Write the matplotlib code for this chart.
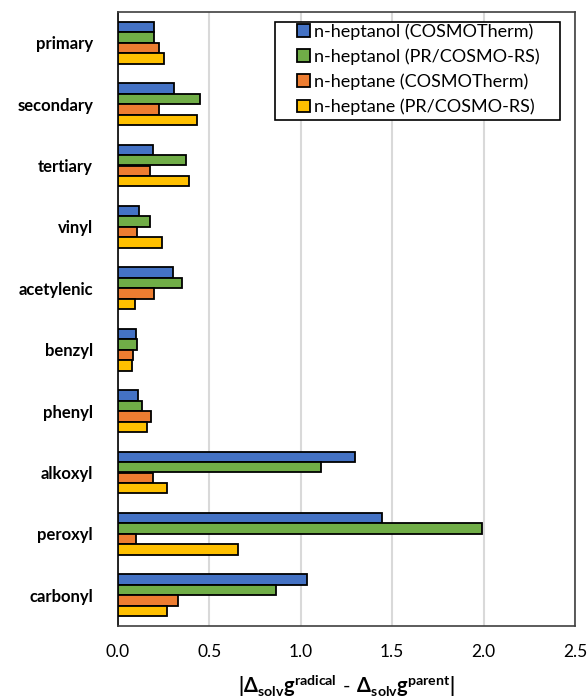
import matplotlib
matplotlib.use("Agg")
import matplotlib.pyplot as plt
from matplotlib.patches import Rectangle
import numpy as np

plt.rcParams['font.family'] = ['Lato', 'DejaVu Sans']
plt.rcParams['mathtext.fontset'] = 'custom'
plt.rcParams['mathtext.rm'] = 'Lato'
plt.rcParams['mathtext.bf'] = 'Lato:bold'

categories = ['primary', 'secondary', 'tertiary', 'vinyl', 'acetylenic',
              'benzyl', 'phenyl', 'alkoxyl', 'peroxyl', 'carbonyl']
series_names = ['n-heptanol (COSMOTherm)', 'n-heptanol (PR/COSMO-RS)',
                'n-heptane (COSMOTherm)', 'n-heptane (PR/COSMO-RS)']
heptanol_cosmo = [0.197, 0.307, 0.193, 0.115, 0.301, 0.097, 0.110, 1.297, 1.443, 1.034]
heptanol_pr = [0.195, 0.451, 0.372, 0.175, 0.352, 0.104, 0.131, 1.108, 1.990, 0.865]
heptane_cosmo = [0.224, 0.224, 0.175, 0.104, 0.195, 0.080, 0.181, 0.193, 0.100, 0.330]
heptane_pr = [0.252, 0.433, 0.390, 0.243, 0.091, 0.079, 0.161, 0.268, 0.659, 0.270]
colors = ['#4472C4', '#70AD47', '#ED7D31', '#FFC000']

W, H = 588, 700
fig = plt.figure(figsize=(W/100, H/100), dpi=100)
ax = fig.add_axes([118/W, 1 - 626/H, 457/W, 614/H])

y = np.arange(len(categories))
h = 0.17
all_series = [heptanol_cosmo, heptanol_pr, heptane_cosmo, heptane_pr]
for i, vals in enumerate(all_series):
    ax.barh(y + (i - 1.5) * h, vals, height=h, color=colors[i],
            edgecolor='black', linewidth=1.3, label=series_names[i], zorder=3)

ax.set_ylim(len(categories) - 0.5, -0.5)
ax.set_xlim(0, 2.5)
ax.set_xticks([0, 0.5, 1.0, 1.5, 2.0, 2.5])
ax.set_xticklabels(['0.0', '0.5', '1.0', '1.5', '2.0', '2.5'], fontsize=12.5)
ax.set_yticks(y)
ax.set_yticklabels(categories, fontsize=12, fontweight='bold')
ax.tick_params(length=0)
ax.tick_params(axis='x', pad=13)
ax.tick_params(axis='y', pad=18)
ax.grid(axis='x', color='#D9D9D9', linewidth=1.5, zorder=0)
for s in ax.spines.values():
    s.set_color('#404040')
    s.set_linewidth(1.2)
ax.spines['left'].set_color('black')

ax.set_xlabel(r'$\mathbf{|\Delta_{solv}g^{radical}\ \text{-}\ \Delta_{solv}g^{parent}|}$',
              fontsize=14.5, labelpad=9)

# legend box drawn separately (Excel style with wide left margin)
fig.patches.append(Rectangle((275/W, 1 - 120/H), 285/W, 98/H, transform=fig.transFigure,
                             facecolor='white', edgecolor='black', linewidth=1.2, zorder=5))
leg = fig.legend(loc='upper left', bbox_to_anchor=(297/W, 1 - 23/H), fontsize=13,
                 frameon=False, handlelength=0.7, handleheight=0.7, handletextpad=0.25,
                 labelspacing=0.48, borderpad=0, borderaxespad=0)
leg.set_zorder(6)

fig.savefig('out.png', dpi=100)
